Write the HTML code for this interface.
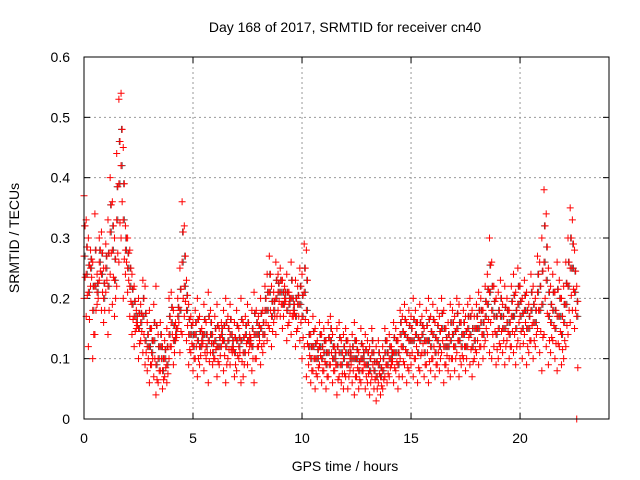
<!DOCTYPE html>
<html><head><meta charset="utf-8"><style>
body{margin:0;background:#fff}
svg{display:block;font-family:"Liberation Sans",sans-serif}
</style></head><body>
<svg id="chart" width="640" height="480">
<text x="345" y="32" text-anchor="middle" font-size="14">Day 168 of 2017, SRMTID for receiver cn40</text>
<text transform="translate(19,238) rotate(-90)" text-anchor="middle" font-size="14">SRMTID / TECUs</text>
<text x="345" y="471" text-anchor="middle" font-size="14">GPS time / hours</text>
<g id="grid"></g><g id="ticks"></g><g id="marks"></g>
<rect x="84" y="57" width="525" height="362" fill="none" stroke="#000" stroke-width="1"/>
</svg>
<script>
const xTicks=[0,5,10,15,20];
const yTicks=[0,0.1,0.2,0.3,0.4,0.5,0.6];
const yTickLabels=["0","0.1","0.2","0.3","0.4","0.5","0.6"];
const hi=[.37,.33,.30,.28,.26,.34,.24,.30,.31,.25,.29,.33,.40,.36,.30,.44,.53,.54,.45,.32,.30,.28,.24,.22,.18,.20,.19,.23,.22,.16,.18,.15,.19,.22,.14,.16,.12,.13,.15,.20,.21,.18,.16,.20,.25,.36,.32,.23,.19,.17,.16,.18,.20,.17,.15,.19,.16,.21,.18,.14,.17,.19,.15,.16,.18,.20,.17,.19,.14,.16,.18,.15,.20,.16,.17,.19,.14,.18,.21,.18,.17,.20,.18,.22,.24,.27,.22,.21,.26,.24,.25,.23,.22,.24,.21,.26,.20,.23,.22,.25,.24,.29,.28,.16,.14,.17,.15,.13,.16,.14,.15,.13,.16,.17,.14,.12,.15,.16,.13,.14,.15,.13,.12,.14,.16,.13,.11,.15,.12,.14,.13,.12,.15,.11,.12,.13,.10,.12,.15,.13,.14,.12,.16,.15,.13,.18,.17,.19,.16,.18,.17,.20,.18,.16,.19,.17,.15,.18,.20,.17,.19,.16,.18,.17,.20,.18,.15,.16,.19,.18,.17,.20,.19,.16,.18,.17,.19,.20,.18,.17,.19,.21,.20,.18,.22,.24,.30,.26,.22,.20,.21,.23,.19,.22,.20,.18,.22,.24,.21,.25,.22,.20,.23,.21,.19,.24,.22,.20,.27,.26,.30,.38,.34,.25,.22,.24,.21,.26,.23,.20,.22,.26,.30,.35,.33,.28,.22];
const lo=[.20,.17,.12,.22,.10,.14,.19,.23,.18,.16,.21,.14,.24,.19,.17,.22,.26,.30,.20,.24,.21,.17,.14,.12,.15,.10,.13,.11,.09,.08,.06,.09,.07,.04,.06,.08,.05,.07,.06,.10,.12,.09,.13,.15,.11,.14,.17,.13,.09,.11,.08,.10,.07,.09,.12,.08,.10,.06,.11,.09,.10,.07,.09,.12,.08,.06,.10,.09,.11,.07,.08,.10,.06,.07,.11,.09,.12,.08,.06,.10,.12,.09,.11,.14,.13,.15,.12,.16,.14,.18,.17,.15,.19,.13,.16,.14,.17,.12,.15,.13,.10,.12,.07,.09,.06,.08,.05,.07,.09,.06,.08,.05,.07,.09,.06,.08,.04,.07,.06,.05,.07,.05,.08,.06,.04,.07,.05,.06,.08,.05,.06,.04,.07,.05,.03,.06,.04,.05,.07,.06,.07,.09,.06,.08,.05,.10,.07,.09,.06,.08,.09,.07,.10,.06,.08,.11,.07,.09,.06,.08,.10,.07,.09,.08,.11,.06,.09,.08,.07,.10,.08,.11,.07,.09,.10,.08,.12,.09,.07,.10,.11,.09,.12,.10,.13,.14,.11,.10,.12,.09,.10,.12,.11,.09,.13,.10,.12,.11,.09,.13,.12,.10,.14,.09,.11,.13,.10,.12,.15,.11,.08,.14,.12,.09,.11,.13,.10,.08,.12,.09,.10,.12,.14,.16,.18,.15,.00];
const mid=[.27,.24,.21,.25,.18,.22,.21,.26,.24,.20,.25,.22,.31,.28,.23,.33,.39,.42,.33,.28,.25,.22,.19,.17,.16,.15,.16,.17,.13,.12,.12,.11,.13,.09,.10,.12,.08,.10,.09,.14,.16,.13,.14,.17,.18,.26,.22,.18,.14,.14,.12,.14,.13,.12,.13,.14,.12,.13,.14,.11,.13,.12,.12,.14,.13,.12,.13,.14,.12,.11,.13,.12,.13,.11,.14,.13,.13,.12,.14,.14,.14,.15,.14,.18,.18,.21,.17,.18,.20,.21,.21,.19,.20,.18,.19,.20,.18,.17,.19,.19,.17,.21,.18,.12,.10,.12,.10,.10,.12,.10,.11,.09,.11,.13,.10,.10,.09,.11,.09,.10,.11,.09,.10,.10,.10,.10,.08,.10,.10,.09,.09,.08,.11,.08,.07,.09,.07,.08,.11,.09,.10,.10,.11,.11,.09,.14,.12,.14,.11,.13,.13,.13,.14,.11,.13,.14,.11,.13,.13,.12,.14,.11,.13,.12,.15,.12,.12,.12,.13,.14,.12,.15,.13,.12,.14,.12,.15,.14,.12,.13,.15,.15,.16,.14,.17,.19,.21,.18,.17,.14,.15,.17,.15,.15,.16,.14,.17,.17,.15,.19,.17,.15,.18,.15,.15,.18,.16,.16,.21,.18,.19,.26,.23,.17,.16,.18,.15,.17,.17,.14,.16,.19,.22,.25,.25,.21,.17];
const times=hi.map((_,i)=>i*0.1);
const X0=84,X1=609,Y0=419,Y1=57,XMAX=24.08,YMAX=0.6;
const xs=t=>X0+(X1-X0)*t/XMAX;
const ys=v=>Y0-(Y0-Y1)*v/YMAX;
const NS="http://www.w3.org/2000/svg";
const grid=document.getElementById('grid'),ticks=document.getElementById('ticks'),marks=document.getElementById('marks');
function mk(tag,a,p){const e=document.createElementNS(NS,tag);for(const k in a)e.setAttribute(k,a[k]);p.appendChild(e);return e;}
xTicks.forEach(t=>{const x=xs(t);
 if(t>0){const g=mk('line',{x1:x,y1:Y0,x2:x,y2:Y1,stroke:'#999','stroke-dasharray':'2,3'},grid);
 
 }
 mk('line',{x1:x,y1:Y0,x2:x,y2:Y0-6,stroke:'#000'},ticks);
 mk('line',{x1:x,y1:Y1,x2:x,y2:Y1+6,stroke:'#000'},ticks);
 const l=mk('text',{x:x,y:Y0+24,'text-anchor':'middle','font-size':14},ticks);l.textContent=t;
 
 });
yTicks.forEach((v,i)=>{const y=ys(v);
 if(i>0&&i<yTicks.length-1){const g=mk('line',{x1:X0,y1:y,x2:X1,y2:y,stroke:'#999','stroke-dasharray':'2,3'},grid);
 
 }
 mk('line',{x1:X0,y1:y,x2:X0+6,y2:y,stroke:'#000'},ticks);
 mk('line',{x1:X1,y1:y,x2:X1-6,y2:y,stroke:'#000'},ticks);
 const l=mk('text',{x:X0-14,y:y+5,'text-anchor':'end','font-size':14},ticks);l.textContent=yTickLabels[i];
 
 });
function cross(t,v,col,name){const x=xs(t),y=ys(v);
 const p=mk('path',{d:`M${x-3.5},${y}h7M${x},${y-3.5}v7`,stroke:col,'stroke-width':1,fill:'none'},marks);
 
 }
times.forEach((t,i)=>cross(t+0.05,mid[i],'#555','grey-point'));
times.forEach((t,i)=>cross(t+0.02,(hi[i]+mid[i])/2,'#555','grey-point'));
times.forEach((t,i)=>{cross(t,hi[i],'#f00','red-point');cross(t,lo[i],'#f00','red-point');cross(t,mid[i],'#f00','red-point');
 cross(t+0.05,(lo[i]+mid[i])/2,'#f00','red-point');cross(t+0.05,(hi[i]+mid[i])/2,'#f00','red-point');});
</script>
</body></html>
